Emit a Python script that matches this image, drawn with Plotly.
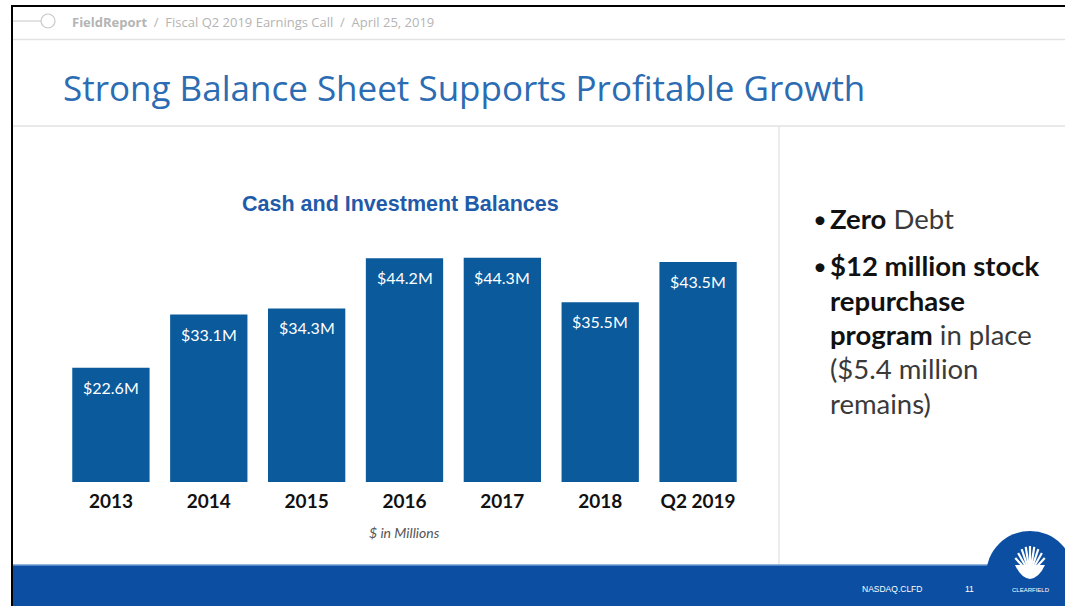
import plotly.graph_objects as go
import math

# ---- data ----
categories = ["2013", "2014", "2015", "2016", "2017", "2018", "Q2 2019"]
balances = [22.6, 33.1, 34.3, 44.2, 44.3, 35.5, 43.5]
bar_labels = ["$22.6M", "$33.1M", "$34.3M", "$44.2M", "$44.3M", "$35.5M", "$43.5M"]

W, H = 1065, 606
def px(x):
    return x / W
def py(y):
    return 1 - y / H

BAR = "#0A5A9C"
BLUE_T = "#2B6CB3"
BAND = "#0B4EA2"

fig = go.Figure()
fig.add_trace(go.Bar(
    x=categories, y=balances, marker=dict(color=BAR, line=dict(width=0)),
    hoverinfo="skip",
))

shapes = []
# black frame
shapes.append(dict(type="rect", xref="paper", yref="paper", x0=px(11), x1=px(1065), y0=py(7), y1=py(5),
                   fillcolor="black", line=dict(width=0), layer="above"))
shapes.append(dict(type="rect", xref="paper", yref="paper", x0=px(11), x1=px(13), y0=py(606), y1=py(5),
                   fillcolor="black", line=dict(width=0), layer="above"))
# header line + circle
shapes.append(dict(type="line", xref="paper", yref="paper", x0=px(13), x1=px(41), y0=py(21), y1=py(21),
                   line=dict(color="#C8C8C8", width=1)))
shapes.append(dict(type="circle", xref="paper", yref="paper", x0=px(41), x1=px(55), y0=py(28), y1=py(14),
                   line=dict(color="#C8C8C8", width=1.2), fillcolor="white"))
# gray separators
shapes.append(dict(type="line", xref="paper", yref="paper", x0=px(13), x1=px(1065), y0=py(39.5), y1=py(39.5),
                   line=dict(color="#E2E2E2", width=1.5)))
shapes.append(dict(type="line", xref="paper", yref="paper", x0=px(13), x1=px(1065), y0=py(126), y1=py(126),
                   line=dict(color="#E2E2E2", width=1.5)))
shapes.append(dict(type="line", xref="paper", yref="paper", x0=px(779), x1=px(779), y0=py(126), y1=py(565),
                   line=dict(color="#E6E6E6", width=1.5)))
# bottom band
shapes.append(dict(type="rect", xref="paper", yref="paper", x0=px(13), x1=px(1065), y0=py(606), y1=py(565),
                   fillcolor=BAND, line=dict(width=0)))
shapes.append(dict(type="line", xref="paper", yref="paper", x0=px(13), x1=px(1065), y0=py(565), y1=py(565),
                   line=dict(color="#6E9BD2", width=1.5)))
# logo circle
cx, cy, r = 1030, 575, 44
shapes.append(dict(type="circle", xref="paper", yref="paper", x0=px(cx - r), x1=px(cx + r), y0=py(cy + r), y1=py(cy - r),
                   fillcolor=BAND, line=dict(width=0)))
# shell fan
sx, sy = 1030, 574
for i in range(9):
    a = math.radians(35 + i * 110 / 8)
    x1 = sx + 18 * math.cos(a)
    y1 = sy - 28 * math.sin(a)
    shapes.append(dict(type="line", xref="paper", yref="paper", x0=px(sx), y0=py(sy), x1=px(x1), y1=py(y1),
                       line=dict(color="white", width=2.2)))
shapes.append(dict(type="path", xref="paper", yref="paper",
                   path=f"M {px(1015)} {py(565)} Q {px(1021)} {py(578)} {px(1030)} {py(579)} Q {px(1039)} {py(578)} {px(1045)} {py(565)} Z",
                   fillcolor="white", line=dict(width=0)))

annotations = []
def ann(x, y, text, size, color, family="Lato", xanchor="left", **kw):
    annotations.append(dict(xref="paper", yref="paper", x=px(x), y=py(y), text=text, showarrow=False,
                            xanchor=xanchor, yanchor="middle", font=dict(family=family, size=size, color=color), **kw))

# bar value labels, placed through the data axes (category index)
for i, (v, t) in enumerate(zip(balances, bar_labels)):
    annotations.append(dict(xref="x", yref="y", x=i, y=v, text=t, showarrow=False, xanchor="center",
                            yanchor="top", yshift=-8, font=dict(family="Lato", size=16, color="white")))

ann(70, 22, "<b>FieldReport</b>  /  Fiscal Q2 2019 Earnings Call  /  April 25, 2019", 13, "#B4B4B4", family="Open Sans")
ann(61, 88, "Strong Balance Sheet Supports Profitable Growth", 35, BLUE_T, family="Open Sans")
ann(400, 204, "<b>Cash and Investment Balances</b>", 21.5, "#1F5BA8", family="Liberation Sans", xanchor="center")
ann(404, 532, "<i>$ in Millions</i>", 14, "#555555", family="Lato", xanchor="center")

# bullets
DK, GR = "#111111", "#3A3A3A"
bx, tx = 811, 828
for yy in (218, 265):
    ann(bx, yy, "•", 24, DK)
ann(tx, 218, f"<b style='color:{DK}'>Zero</b> Debt", 27.5, GR)
ann(tx, 265, "<b>$12 million stock</b>", 27.5, DK)
ann(tx, 300, "<b>repurchase</b>", 27.5, DK)
ann(tx, 334, f"<b>program</b><span style='color:{GR}'> in place</span>", 27.5, DK)
ann(tx, 368, "($5.4 million", 27.5, GR)
ann(tx, 403, "remains)", 27.5, GR)

# footer
ann(860, 589, "NASDAQ.CLFD", 8.5, "white", family="Liberation Sans")
ann(963, 589, "11", 8.5, "white", family="Liberation Sans")
ann(1031, 590, "CLEARFIELD", 6, "white", family="Liberation Sans", xanchor="center")

fig.update_layout(
    width=W, height=H, margin=dict(l=0, r=0, t=0, b=0),
    paper_bgcolor="white", plot_bgcolor="white",
    showlegend=False, bargap=0.21,
    shapes=shapes, annotations=annotations,
    xaxis=dict(type="category", range=[-0.5, len(categories) - 0.5], domain=[px(62), px(747)],
               showgrid=False, showline=False, zeroline=False, ticks="",
               tickfont=dict(family="Lato", size=19, color="#111111", weight="bold"),
               ticklabelstandoff=6, fixedrange=True),
    yaxis=dict(domain=[py(482), py(229)], range=[0, 50], visible=False, fixedrange=True),
)

fig.write_html("out.html", config={"displayModeBar": False},
               post_script="document.body.style.margin='0';document.body.style.padding='0';")
